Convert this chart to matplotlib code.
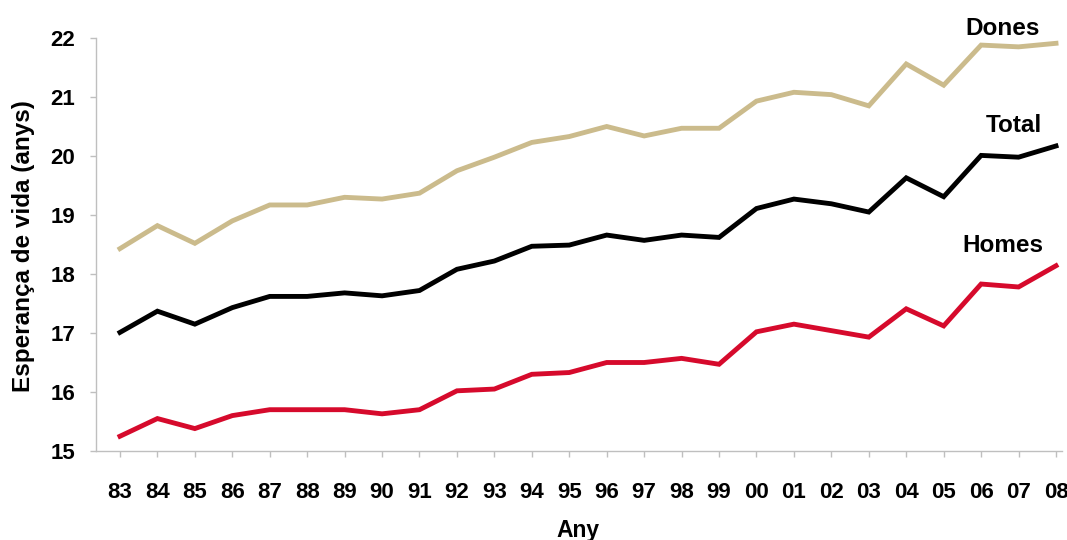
import matplotlib
matplotlib.use("Agg")
import matplotlib.pyplot as plt

years = ["83", "84", "85", "86", "87", "88", "89", "90", "91", "92", "93", "94", "95",
         "96", "97", "98", "99", "00", "01", "02", "03", "04", "05", "06", "07", "08"]
dones = [18.43, 18.82, 18.52, 18.90, 19.17, 19.17, 19.30, 19.27, 19.37, 19.75, 19.98, 20.23, 20.33,
         20.50, 20.34, 20.47, 20.47, 20.93, 21.08, 21.04, 20.85, 21.56, 21.20, 21.88, 21.85, 21.91]
total = [17.01, 17.37, 17.15, 17.43, 17.62, 17.62, 17.68, 17.63, 17.72, 18.08, 18.22, 18.47, 18.49,
         18.66, 18.57, 18.66, 18.62, 19.11, 19.27, 19.19, 19.05, 19.63, 19.31, 20.01, 19.98, 20.17]
homes = [15.25, 15.55, 15.38, 15.60, 15.70, 15.70, 15.70, 15.63, 15.70, 16.02, 16.05, 16.30, 16.33,
         16.50, 16.50, 16.57, 16.47, 17.02, 17.15, 17.04, 16.93, 17.41, 17.12, 17.83, 17.78, 18.14]
yticks = [15, 16, 17, 18, 19, 20, 21, 22]

plt.rcParams['font.family'] = ['Liberation Sans', 'DejaVu Sans']

fig = plt.figure(figsize=(10.67, 5.4), dpi=100)
ax = fig.add_axes([96/1067, 89/540, 966/1067, 413/540])

x = list(range(len(years)))
ax.plot(x, dones, color="#CBBB8C", lw=3.5, solid_joinstyle="miter")
ax.plot(x, total, color="#000000", lw=3.5, solid_joinstyle="miter")
ax.plot(x, homes, color="#D60A2C", lw=3.5, solid_joinstyle="miter")

ax.set_xlim(-0.64, 25.16)
ax.set_ylim(15, 22)
ax.set_xticks(x)
ax.set_xticklabels(years)
ax.set_yticks(yticks)
ax.set_yticklabels([str(v) for v in yticks])

for s in ["top", "right"]:
    ax.spines[s].set_visible(False)
for s in ["left", "bottom"]:
    ax.spines[s].set_color("#BFBFBF")
    ax.spines[s].set_linewidth(1.0)
ax.tick_params(axis="both", colors="#BFBFBF", length=4.5, width=1, direction="out",
               labelcolor="black", labelsize=16)
ax.tick_params(axis="x", pad=18)
ax.tick_params(axis="y", pad=10.5)
for lab in ax.get_xticklabels() + ax.get_yticklabels():
    lab.set_fontweight("bold")

fig.text(578/1067, 3/540, "Any", fontsize=16.5, fontweight="bold",
         ha="center", va="baseline")
fig.text(24/1067, 1 - 246.5/540, "Esperança de vida (anys)", fontsize=17.5,
         fontweight="bold", rotation=90, ha="center", va="center")

ax.text(23.58, 22.05, "Dones", fontsize=17.5, fontweight="bold",
        ha="center", va="baseline", clip_on=False)
ax.text(23.87, 20.41, "Total", fontsize=17.5, fontweight="bold",
        ha="center", va="baseline")
ax.text(23.58, 18.37, "Homes", fontsize=17.5, fontweight="bold",
        ha="center", va="baseline")

fig.savefig("out.png", dpi=100)
